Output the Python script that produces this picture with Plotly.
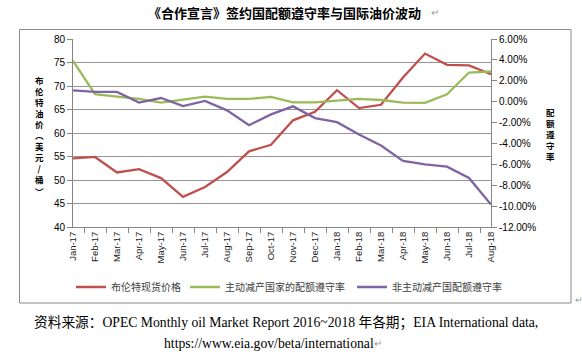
import plotly.graph_objects as go

months = ["Jan-17", "Feb-17", "Mar-17", "Apr-17", "May-17", "Jun-17", "Jul-17", "Aug-17",
          "Sep-17", "Oct-17", "Nov-17", "Dec-17", "Jan-18", "Feb-18", "Mar-18", "Apr-18",
          "May-18", "Jun-18", "Jul-18", "Aug-18"]
brent = [54.6, 54.9, 51.6, 52.3, 50.4, 46.4, 48.5, 51.7, 56.1, 57.5,
         62.7, 64.5, 69.1, 65.3, 66.0, 71.8, 76.9, 74.5, 74.4, 72.5]
active_rate = [3.91, 0.71, 0.48, 0.26, -0.09, 0.23, 0.48, 0.26, 0.26, 0.45,
               -0.06, -0.06, 0.10, 0.26, 0.16, -0.10, -0.12, 0.71, 2.79, 2.89]
nonactive_rate = [1.09, 0.93, 0.93, -0.09, 0.35, -0.42, 0.07, -0.83, -2.25, -1.22,
                  -0.45, -1.57, -1.96, -3.14, -4.20, -5.68, -6.00, -6.22, -7.31, -9.85]

series_names = ["布伦特现货价格", "主动减产国家的配额遵守率", "非主动减产国配额遵守率"]
left_ticks = [40, 45, 50, 55, 60, 65, 70, 75, 80]
right_ticks = [-12, -10, -8, -6, -4, -2, 0, 2, 4, 6]
right_ticktext = [f"{v:.2f}%" for v in right_ticks]

title_text = "《合作宣言》签约国配额遵守率与国际油价波动"
left_title_chars = ["布", "伦", "特", "油", "价", "︵", "美", "元", "/", "桶", "︶"]
right_title_chars = ["配", "额", "遵", "守", "率"]
source_line1 = "资料来源：OPEC Monthly oil Market Report 2016~2018 年各期；EIA International data,"
source_line2 = "https://www.eia.gov/beta/international"

W, H = 582, 355
L, R, T, B = 73, 491, 39, 227  # plot area in pixels


def fx(px):
    return (px - L) / (R - L)


def fy(py):
    return (B - py) / (B - T)


CJK = "Noto Sans CJK SC"
SANS = "Liberation Sans"
colors = ["#C0504D", "#9BBB59", "#8064A2"]

fig = go.Figure()
fig.add_trace(go.Scatter(x=months, y=brent, name=series_names[0], mode="lines",
                         line=dict(color=colors[0], width=2.3), yaxis="y", legend="legend"))
fig.add_trace(go.Scatter(x=months, y=active_rate, name=series_names[1], mode="lines",
                         line=dict(color=colors[1], width=2.3), yaxis="y2", legend="legend2"))
fig.add_trace(go.Scatter(x=months, y=nonactive_rate, name=series_names[2], mode="lines",
                         line=dict(color=colors[2], width=2.3), yaxis="y2", legend="legend3"))

annotations = []
annotations.append(dict(text="<b>" + title_text + "</b>", x=fx(284), y=fy(12), xref="paper", yref="paper",
                        showarrow=False, xanchor="center", yanchor="middle",
                        font=dict(family=CJK, size=13, color="#000")))
annotations.append(dict(text="↵", x=fx(429), y=fy(13), xref="paper", yref="paper",
                        showarrow=False, xanchor="left", yanchor="middle",
                        font=dict(family=SANS, size=10, color="#999")))
# vertical (stacked) axis titles
annotations.append(dict(text="<b>" + "<br>".join(left_title_chars) + "</b>", x=fx(39), y=fy(135),
                        xref="paper", yref="paper", showarrow=False, xanchor="center", yanchor="middle",
                        font=dict(family=CJK, size=8.5, color="#000")))
annotations.append(dict(text="<b>" + "<br>".join(right_title_chars) + "</b>", x=fx(550), y=fy(134),
                        xref="paper", yref="paper", showarrow=False, xanchor="center", yanchor="middle",
                        font=dict(family=CJK, size=8.5, color="#000")))
annotations.append(dict(text=source_line1, x=fx(32), y=fy(323), xref="paper", yref="paper",
                        showarrow=False, xanchor="left", yanchor="middle",
                        font=dict(family="Liberation Serif, " + CJK, size=13.7, color="#000")))
annotations.append(dict(text=source_line2, x=fx(162), y=fy(343), xref="paper", yref="paper",
                        showarrow=False, xanchor="left", yanchor="middle",
                        font=dict(family="Liberation Serif", size=13.7, color="#000")))
annotations.append(dict(text="↵", x=fx(372), y=fy(343), xref="paper", yref="paper",
                        showarrow=False, xanchor="left", yanchor="middle",
                        font=dict(family=SANS, size=10, color="#999")))
annotations.append(dict(text="↵", x=fx(573), y=fy(300), xref="paper", yref="paper",
                        showarrow=False, xanchor="left", yanchor="middle",
                        font=dict(family=SANS, size=9, color="#999")))

shapes = [dict(type="rect", xref="paper", yref="paper",
               x0=fx(19.5), x1=fx(571), y0=fy(303), y1=fy(29.5),
               line=dict(color="#8a8a8a", width=1), fillcolor="rgba(0,0,0,0)", layer="below")]

legend_common = dict(orientation="h", yanchor="middle", xanchor="left", y=fy(287),
                     font=dict(family=CJK, size=10, color="#404040"), bgcolor="rgba(0,0,0,0)",
                     itemwidth=30)

fig.update_layout(
    width=W, height=H, autosize=False,
    margin=dict(l=L, r=W - R, t=T, b=H - B, pad=0),
    paper_bgcolor="white", plot_bgcolor="white",
    font=dict(family=SANS, size=10, color="#000"),
    showlegend=True,
    legend=dict(x=fx(71), **legend_common),
    legend2=dict(x=fx(185), **legend_common),
    legend3=dict(x=fx(352), **legend_common),
    xaxis=dict(type="category", tickangle=-90, ticks="outside", tickson="boundaries", ticklen=5,
               tickcolor="#868686", showline=True, linecolor="#868686", linewidth=1,
               showgrid=False, tickfont=dict(family=SANS, size=9.5, color="#222"), automargin=False),
    yaxis=dict(range=[40, 80], tickvals=left_ticks, ticks="outside", ticklen=5, tickcolor="#868686",
               showline=True, linecolor="#868686", linewidth=1, showgrid=True, gridcolor="#959595",
               gridwidth=1, zeroline=False, tickfont=dict(family=SANS, size=10, color="#000"),
               automargin=False),
    yaxis2=dict(range=[-12, 6], overlaying="y", side="right", tickvals=right_ticks, ticktext=right_ticktext,
                ticks="outside", ticklen=5, tickcolor="#868686", showline=True, linecolor="#868686",
                linewidth=1, showgrid=False, zeroline=False,
                tickfont=dict(family=SANS, size=10, color="#000"), automargin=False),
    annotations=annotations,
    shapes=shapes,
)

fig.write_html("out.html", config={"displayModeBar": False},
               post_script="document.body.style.margin='0px';document.body.style.overflow='hidden';")
